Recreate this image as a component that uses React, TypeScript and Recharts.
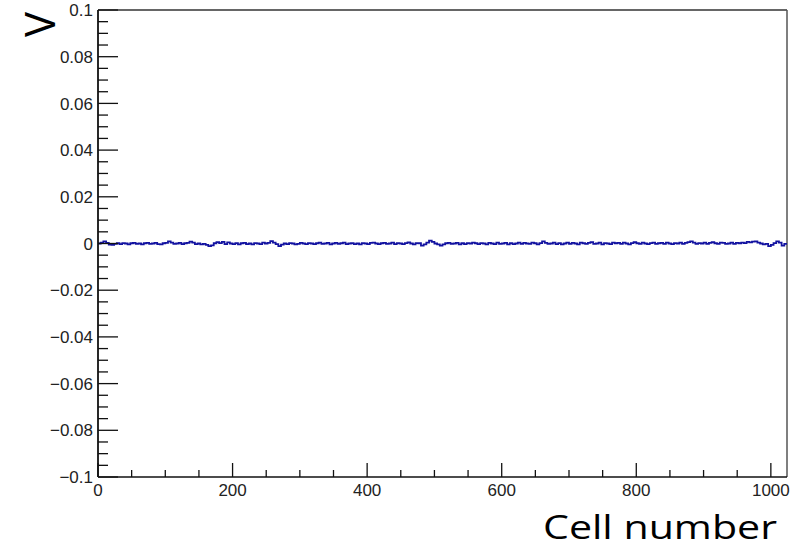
import React from "react";
import { LineChart, Line, XAxis, YAxis, ReferenceLine } from "recharts";

// pedestal-subtracted voltage per cell, read every 4 cells, in units of 0.1 mV
const cellStep = 4;
const voltage01mV = [
  0, 4, 9, 3, -5, -6, -2, 1, -3, 2, 0, -4, 1, 3, -2, 0,
  -4, 1, 3, -2, 0, 3, -3, -4, 1, 3, 9, 4, -2, 0, 3, -3,
  1, 3, 8, 4, -3, 0, -4, -2, -6, -11, -8, 1, 6, 2, 7, -3,
  5, 0, -3, 2, -4, 1, 3, -3, 0, -4, 2, 0, -3, 4, 0, 3,
  10, 4, -3, -11, -5, 0, -3, 2, 0, -4, -2, 3, 0, -3, 2, 0,
  -3, 1, 4, -2, 0, 3, -4, 0, 3, -2, 1, 4, -3, 0, 2, -3,
  0, -4, 2, 0, -3, 3, 4, 0, -3, 1, 3, -2, 0, 4, -3, 2,
  0, -3, 2, 5, 0, -4, 2, 1, -9, -4, 4, 12, 7, 0, -4, -9,
  -4, 1, 3, -2, 0, 3, -4, 1, -3, 2, 0, 4, 1, -3, 2, 0,
  -4, 3, 0, -3, 4, -2, 0, 3, -4, 2, -3, 0, 4, -2, 3, 0,
  -2, 4, 1, -4, 2, 9, 3, -2, 0, 4, -3, 2, -4, 0, 4, -2,
  3, 0, -4, 4, 1, -2, 3, 6, -2, 0, 4, -4, 2, 0, -3, 4,
  1, 3, -2, 4, 0, -4, 2, 6, 1, -2, 4, 0, -3, 2, 4, -2,
  1, 3, -2, 4, 0, -3, 2, 0, 4, -2, 3, 6, 9, 4, -2, 2,
  0, 4, -2, 3, 6, 1, -2, 4, 3, -2, 0, 4, -2, 3, 1, 4,
  2, 7, 5, 8, 9, 4, 0, -4, -2, -11, -6, 2, 9, 4, -9, -2,
];

const nCells = 1024;
const xMajor = [0, 200, 400, 600, 800, 1000];
const xTicks = Array.from({ length: 21 }, (_, i) => i * 50);
const yMajor = [-0.1, -0.08, -0.06, -0.04, -0.02, 0, 0.02, 0.04, 0.06, 0.08, 0.1];
const yTicks = Array.from({ length: 41 }, (_, i) => Math.round((-0.1 + i * 0.005) * 1000) / 1000);

const data = voltage01mV.map((v, i) => ({ cell: i * cellStep, v: v * 1e-4 }));
data.push({ cell: nCells, v: data[data.length - 1].v });

const lineColor = "#1212a0";
const axisColor = "#111";
const labelFont = "'Liberation Sans', Arial, sans-serif";

const fmt = (v: number) => {
  const s = String(Number(v.toFixed(3)));
  return s.replace("-", "\u2212");
};

const YTick = (props: any) => {
  const { x, y, payload } = props;
  const v = payload.value;
  const major = yMajor.some(m => Math.abs(m - v) < 1e-6);
  return (
    <g>
      <line x1={x} y1={y} x2={x + (major ? 20 : 10)} y2={y} stroke={axisColor} strokeWidth={1.3} />
      {major && (
        <text x={x - 5} y={y} dy="0.36em" textAnchor="end" fontSize={17} fontFamily={labelFont} fill="#222">
          {fmt(v)}
        </text>
      )}
    </g>
  );
};

const XTick = (props: any) => {
  const { x, y, payload } = props;
  const v = payload.value;
  const major = xMajor.includes(v);
  return (
    <g>
      <line x1={x} y1={y} x2={x} y2={y - (major ? 14 : 7)} stroke={axisColor} strokeWidth={1.3} />
      {major && (
        <text x={x} y={y + 19} textAnchor="middle" fontSize={17} fontFamily={labelFont} fill="#222">
          {fmt(v)}
        </text>
      )}
    </g>
  );
};

export default function App() {
  return (
    <div style={{ position: "absolute", left: 0, top: 0, width: 810, height: 549, background: "#fff" }}>
      <LineChart width={810} height={549} data={data} margin={{ top: 10, right: 23, bottom: 42, left: 8 }}>
        <XAxis
          dataKey="cell"
          type="number"
          domain={[0, nCells]}
          ticks={xTicks}
          interval={0}
          allowDataOverflow
          height={30}
          tickSize={0}
          tickMargin={0}
          tickLine={false}
          tick={<XTick />}
          axisLine={{ stroke: axisColor, strokeWidth: 1.5 }}
        />
        <YAxis
          type="number"
          domain={[-0.1, 0.1]}
          ticks={yTicks}
          interval={0}
          allowDataOverflow
          width={90}
          tickSize={0}
          tickMargin={0}
          tickLine={false}
          tick={<YTick />}
          axisLine={{ stroke: axisColor, strokeWidth: 1.8 }}
        />
        <ReferenceLine y={0.1} stroke="#333" strokeWidth={1.3} />
        <ReferenceLine x={nCells} stroke="#555" strokeWidth={1.5} />
        <Line
          type="stepAfter"
          dataKey="v"
          stroke={lineColor}
          strokeWidth={1.8}
          dot={false}
          isAnimationActive={false}
        />
      </LineChart>
      <svg width={810} height={549} style={{ position: "absolute", left: 0, top: 0, pointerEvents: "none" }}>
        <text
          transform="translate(55,24.5) rotate(-90)"
          textAnchor="middle"
          fontSize={42}
          fontFamily="'Open Sans', sans-serif"
          fill="#000"
        >
          V
        </text>
        <text
          x={543}
          y={539}
          fontSize={33}
          textLength={234}
          lengthAdjust="spacingAndGlyphs"
          fontFamily="'Open Sans', sans-serif"
          fill="#000"
        >
          Cell number
        </text>
      </svg>
    </div>
  );
}
